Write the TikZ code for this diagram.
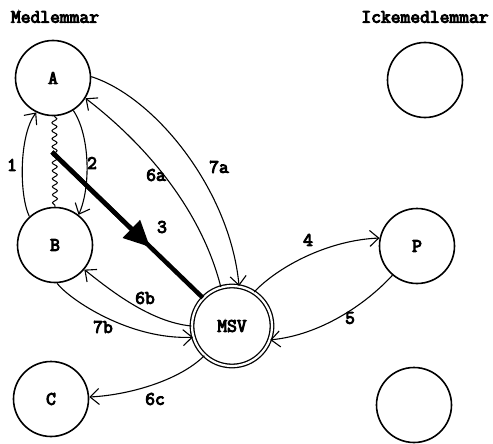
\documentclass[tikz,border=0pt]{standalone}
\usepackage{fontspec}
\newfontfamily\tw{Latin Modern Mono}[FakeBold=5]
\usetikzlibrary{arrows.meta,decorations.pathmorphing}
\begin{document}
\begin{tikzpicture}[x=1pt,y=-1pt,
  every node/.style={font=\tw\fontsize{19}{19}\selectfont, inner sep=0pt},
  party/.style={draw, circle, line width=1.6pt, minimum size=75pt},
  msv/.style={draw, circle, double, double distance=2.2pt, line width=1.3pt, minimum size=80pt},
  flow/.style={line width=1.1pt, -{Straight Barb[length=9pt,width=16pt]}},
  heavy/.style={line width=4.5pt}]
\useasboundingbox (0,0) rectangle (493,444);
% titles
\node (t1) at (55,17) {Medlemmar};
\node (t2) at (425,17) {Ickemedlemmar};
% nodes
\node[party] (A) at (53,78) {A};
\node[party] (B) at (55,245) {B};
\node[party] (C) at (51,399) {C};
\node[msv]   (M) at (232,326) {MSV};
\node[party] (P) at (417,246) {P};
\node[party] (N1) at (425,80) {};
\node[party] (N2) at (414,405) {};
% edges
\draw[flow] (B.132) .. controls (19,195) and (19,135) .. (A.244);
\draw[flow] (A.302) .. controls (90,135) and (91,187) .. (B.52);
\draw[line width=1pt, decorate, decoration={snake, segment length=8pt, amplitude=2.5pt}] (A.272) -- (B.90);
\coordinate (s3) at (52,152);
\coordinate (h3) at (150,247);
\draw[heavy] (s3) -- (M);
\draw[heavy, -{Triangle[length=26pt,width=24pt]}] (s3) -- (h3);
\draw[flow] (M.106) .. controls (200,205) and (140,140) .. (A.328);
\draw[flow] (A.2) .. controls (155,97) and (230,190) .. (M.80);
\draw[flow] (M.180) .. controls (150,322) and (110,290) .. (B.320);
\draw[flow] (B.273) .. controls (70,300) and (130,340) .. (M.196);
\draw[flow] (M.227) .. controls (180,380) and (130,395) .. (C.3);
\draw[flow] (M.57) .. controls (280,265) and (330,240) .. (P.168);
\draw[flow] (P.230) .. controls (365,305) and (320,335) .. (M.340);
% labels
\node (l1) at (12,165) {1};
\node (l2) at (92,163) {2};
\node (l6a) at (156,175) {6a};
\node (l7a) at (219,167) {7a};
\node (l3) at (162,227) {3};
\node (l6b) at (145,298) {6b};
\node (l7b) at (103,327) {7b};
\node (l6c) at (155,399) {6c};
\node (l4) at (308,240) {4};
\node (l5) at (350,318) {5};
\end{tikzpicture}
\end{document}
